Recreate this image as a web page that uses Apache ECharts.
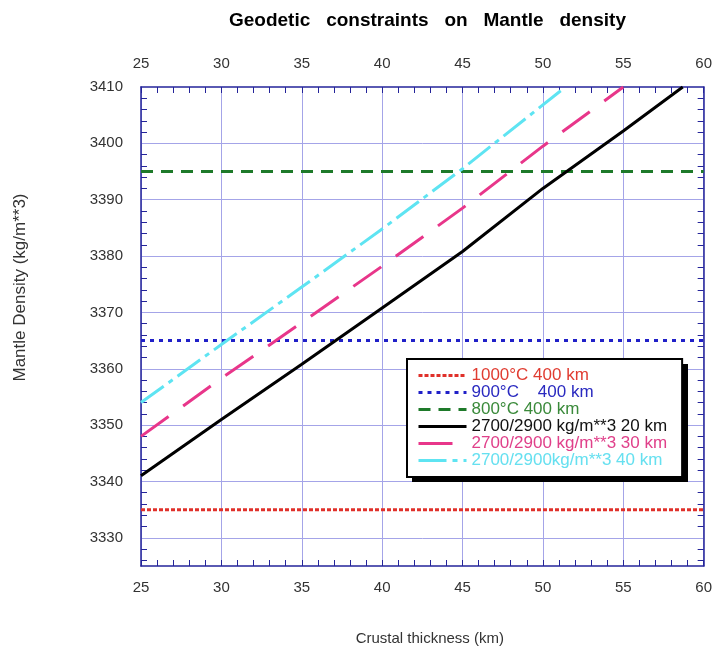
<!DOCTYPE html>
<html>
<head>
<meta charset="utf-8">
<script src="https://cdn.jsdelivr.net/npm/echarts@6/dist/echarts.min.js"></script>
<style>html,body{margin:0;padding:0;background:#fff}#c{width:715px;height:651px}</style>
</head>
<body>
<div id="c"></div>
<script>
// ---- data ----
var seriesNames = ['1000°C 400 km', '900°C    400 km', '800°C 400 km', '2700/2900 kg/m**3 20 km', '2700/2900 kg/m**3 30 km', '2700/2900kg/m**3 40 km'];
var red1000 = [[25, 3335], [60, 3335]];
var blue900 = [[25, 3365], [60, 3365]];
var green800 = [[25, 3395], [60, 3395]];
var black20 = [[25, 3341], [30, 3351], [35, 3360.8], [40, 3370.8], [45, 3380.8], [50, 3392], [55, 3402.2], [58.7, 3410]];
var pink30 = [[25, 3348], [30, 3358.3], [35, 3368.2], [40, 3378.2], [45, 3388.5], [50, 3399.5], [55, 3410]];
var cyan40 = [[25, 3354], [30, 3364.3], [35, 3374.5], [40, 3384.8], [45, 3395.5], [51.4, 3410]];
var yMajorTicks = [3330, 3340, 3350, 3360, 3370, 3380, 3390, 3400, 3410];
var yMinorTicks = [3326, 3328, 3332, 3334, 3336, 3338, 3342, 3344, 3346, 3348, 3352, 3354, 3356, 3358, 3362, 3364, 3366, 3368, 3372, 3374, 3376, 3378, 3382, 3384, 3386, 3388, 3392, 3394, 3396, 3398, 3402, 3404, 3406, 3408];
var yGridLines = [3330, 3340, 3350, 3360, 3370, 3380, 3390, 3400];

var FONT = 'Liberation Sans, Arial, sans-serif';
var AXIS_C = '#24249a';
var GRID_C = '#a4a4e8';
var LABEL_C = '#333333';

var colors = ['#e0302a', '#2020c8', '#1e7a2a', '#000000', '#e8368a', '#5ee4f2'];
var textColors = ['#e03c31', '#2a2ac0', '#3a8a3a', '#111111', '#e0408a', '#66e0f0'];
var dashes = [[4, 2], [4, 5], [12, 8], 'solid', [34, 18], [28, 6, 5, 6]];
var datasets = [red1000, blue900, green800, black20, pink30, cyan40];

var chart = echarts.init(document.getElementById('c'), null, {renderer: 'canvas'});

function plain(v) { return String(v); }

var xCommon = {
  type: 'value', min: 25, max: 60, interval: 5,
  axisLine: {show: true, lineStyle: {color: AXIS_C, width: 1.5}},
  axisTick: {show: true, inside: true, length: 6, lineStyle: {color: AXIS_C}},
  minorTick: {show: true, splitNumber: 5, length: 6, lineStyle: {color: AXIS_C}},
  axisLabel: {color: LABEL_C, fontSize: 15, fontFamily: FONT, formatter: plain},
  splitLine: {show: false}
};

var series = datasets.map(function (d, i) {
  return {
    name: seriesNames[i], type: 'line', data: d, symbol: 'none',
    xAxisIndex: 0, yAxisIndex: 0, z: 3 + i,
    lineStyle: {color: colors[i], width: 3, type: dashes[i], cap: 'butt'},
    itemStyle: {color: colors[i]},
    animation: false
  };
});

var LEG = {x: 407, y: 359};

chart.setOption({
  animation: false,
  backgroundColor: '#fff',
  title: {
    text: 'Geodetic   constraints   on   Mantle   density',
    left: 224, top: 6,
    textStyle: {fontFamily: FONT, fontSize: 19, fontWeight: 'bold', color: '#000'}
  },
  grid: {left: 141, right: 11, top: 87, bottom: 83, containLabel: false},
  xAxis: [
    Object.assign({}, xCommon, {
      position: 'bottom',
      name: 'Crustal thickness (km)', nameLocation: 'middle', nameGap: 65,
      nameTextStyle: {fontFamily: FONT, fontSize: 15, color: LABEL_C, padding: [0, 0, 0, 15]},
      axisLabel: {color: LABEL_C, fontSize: 15, fontFamily: FONT, margin: 14, formatter: plain},
      splitLine: {show: true, lineStyle: {color: GRID_C, width: 1}}
    }),
    Object.assign({}, xCommon, {
      position: 'top',
      axisLabel: {color: LABEL_C, fontSize: 15, fontFamily: FONT, margin: 16, formatter: plain}
    })
  ],
  yAxis: [
    {
      type: 'value', min: 3325, max: 3410, position: 'left',
      name: 'Mantle Density (kg/m**3)', nameLocation: 'middle', nameGap: 112,
      nameTextStyle: {fontFamily: FONT, fontSize: 17, color: LABEL_C, padding: [0, 0, 0, 78]},
      axisLine: {show: true, lineStyle: {color: AXIS_C, width: 1.5}},
      axisTick: {show: true, inside: true, length: 6, customValues: yMinorTicks, lineStyle: {color: AXIS_C}},
      axisLabel: {color: LABEL_C, fontSize: 15, fontFamily: FONT, margin: 18, customValues: yMajorTicks, formatter: plain},
      splitLine: {show: false}
    },
    {
      type: 'value', min: 3325, max: 3410, position: 'right',
      axisLine: {show: true, lineStyle: {color: AXIS_C, width: 1.5}},
      axisTick: {show: true, inside: true, length: 6, customValues: yMinorTicks, lineStyle: {color: AXIS_C}},
      axisLabel: {show: false},
      splitLine: {show: false}
    },
    {
      type: 'value', min: 3325, max: 3410, position: 'left',
      axisLine: {show: false},
      axisTick: {show: false, customValues: yGridLines},
      axisLabel: {show: false, customValues: yGridLines},
      splitLine: {show: true, lineStyle: {color: GRID_C, width: 1}}
    }
  ],
  graphic: [{
    type: 'rect', z: 15, silent: true,
    shape: {x: LEG.x + 5, y: LEG.y + 5, width: 276, height: 118},
    style: {fill: '#000'}
  }],
  legend: {
    orient: 'vertical', left: LEG.x, top: LEG.y,
    padding: [8, 15, 8, 10],
    itemWidth: 48, itemHeight: 14, itemGap: 0,
    backgroundColor: '#fff', borderColor: '#000', borderWidth: 2,
    itemStyle: {opacity: 0},
    lineStyle: {width: 3},
    data: seriesNames.map(function (n, i) {
      return {name: n, textStyle: {color: textColors[i], fontSize: 17, fontFamily: FONT}};
    }),
    textStyle: {fontFamily: FONT, fontSize: 17},
    z: 20
  },
  series: series
});
</script>
</body>
</html>
